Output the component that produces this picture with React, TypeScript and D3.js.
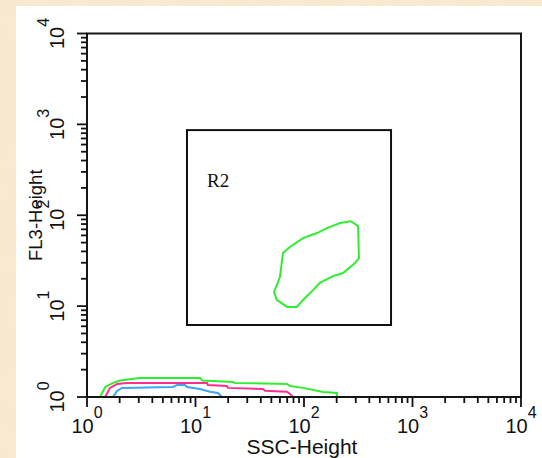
import React from 'react'
import * as d3 from 'd3'

// decades on both log axes
const decades = [1, 10, 100, 1000, 10000]
const exponents = ['0', '1', '2', '3', '4']

// R2 gate corners [ssc, fl3]
const gateR2 = [
  [8.35, 865],
  [634, 6.2],
]

// contour inside the gate [ssc, fl3]
const gateContour = [
  [271, 86], [315, 76], [321, 33.8], [295, 29.8], [229, 23.1], [185, 21.4],
  [140, 18], [121, 15], [98, 11.7], [86, 9.8], [70, 9.8], [56, 11.7],
  [53, 14.3], [60, 20.9], [64, 38.4], [74, 44.7], [98, 56.1], [132, 63.7],
  [163, 72.3], [215, 82], [271, 86],
]

// contours hugging the x axis
const greenLevel = [
  [1.32, 1], [1.47, 1.29], [1.74, 1.43], [2.01, 1.52], [3.08, 1.62], [11, 1.62],
  [11.5, 1.52], [22.2, 1.46], [23.1, 1.43], [69.7, 1.39], [74.3, 1.32], [98, 1.26],
  [150, 1.135], [201, 1.106], [201, 1],
]
const pinkLevel = [
  [1.47, 1], [1.63, 1.26], [1.89, 1.39], [2.34, 1.43], [12.8, 1.43], [13, 1.355],
  [19.5, 1.32], [19.9, 1.26], [41.9, 1.225], [43.7, 1.173], [69.7, 1.144], [74.3, 1.079],
  [79.2, 1],
]
const blueLevel = [
  [1.74, 1], [1.89, 1.164], [2.1, 1.26], [6.2, 1.29], [6.75, 1.355], [8, 1.355],
  [8.35, 1.29], [11, 1.225], [13.6, 1.144], [16.1, 1.106], [17.5, 1],
]

const contours = [
  { points: greenLevel, color: '#2fee2f' },
  { points: pinkLevel, color: '#ff2f8f' },
  { points: blueLevel, color: '#3aa6f5' },
  { points: gateContour, color: '#2fee2f' },
]

const font = '"Liberation Sans", Arial, sans-serif'

export default function App() {
  const x = d3.scaleLog().domain([1, 10000]).range([87, 521])
  const y = d3.scaleLog().domain([1, 10000]).range([397, 33.5])

  const minor = []
  decades.slice(0, 4).forEach(d => {
    for (let k = 2; k <= 9; k++) minor.push(d * k)
  })

  const line = d3
    .line()
    .x(d => x(d[0]))
    .y(d => y(d[1]))

  return (
    <svg
      width={542}
      height={458}
      style={{ position: 'absolute', left: 0, top: 0 }}
      fontFamily={font}
    >
      <defs>
        <filter id="paper" x="0" y="0" width="100%" height="100%">
          <feTurbulence type="fractalNoise" baseFrequency="0.035" numOctaves="4" seed="7" />
          <feColorMatrix
            type="matrix"
            values="0 0 0 0 0.88  0 0 0 0 0.76  0 0 0 0 0.56  0.9 0 0 0 -0.35"
          />
        </filter>
      </defs>
      <rect width={542} height={458} fill="#f8ead0" />
      <rect width={542} height={458} filter="url(#paper)" opacity={0.5} />
      <rect x={16} y={6} width={526} height={452} fill="#ffffff" />

      {contours.map((c, i) => (
        <path key={i} d={line(c.points)} fill="none" stroke={c.color} strokeWidth={2} />
      ))}

      <rect
        x={x(gateR2[0][0])}
        y={y(gateR2[0][1])}
        width={x(gateR2[1][0]) - x(gateR2[0][0])}
        height={y(gateR2[1][1]) - y(gateR2[0][1])}
        fill="none"
        stroke="#111"
        strokeWidth={2}
      />
      <text
        x={x(gateR2[0][0]) + 20}
        y={y(gateR2[0][1]) + 57}
        fontFamily='"Liberation Serif", "Times New Roman", serif'
        fontSize={19}
        fill="#111"
      >
        R2
      </text>

      <rect
        x={x(1)}
        y={y(10000)}
        width={x(10000) - x(1)}
        height={y(1) - y(10000)}
        fill="none"
        stroke="#151515"
        strokeWidth={2}
      />

      {/* x axis ticks */}
      {minor.map(v => (
        <line key={'xm' + v} x1={x(v)} x2={x(v)} y1={y(1)} y2={y(1) + 6} stroke="#111" strokeWidth={1.8} />
      ))}
      {decades.map(v => (
        <line key={'xM' + v} x1={x(v)} x2={x(v)} y1={y(1)} y2={y(1) + 10} stroke="#111" strokeWidth={1.8} />
      ))}
      {decades.map((v, i) => (
        <text key={'xl' + v} x={x(v)} y={433} textAnchor="middle" fontSize={20} fill="#111">
          10
          <tspan dy={-15} fontSize={16}>
            {exponents[i]}
          </tspan>
        </text>
      ))}

      {/* y axis ticks */}
      {minor.map(v => (
        <line key={'ym' + v} x1={x(1) - 6} x2={x(1)} y1={y(v)} y2={y(v)} stroke="#111" strokeWidth={1.8} />
      ))}
      {decades.map(v => (
        <line key={'yM' + v} x1={x(1) - 10} x2={x(1)} y1={y(v)} y2={y(v)} stroke="#111" strokeWidth={1.8} />
      ))}
      {decades.map((v, i) => (
        <text
          key={'yl' + v}
          transform={'translate(64,' + y(v) + ') rotate(-90)'}
          textAnchor="middle"
          fontSize={20}
          fill="#111"
        >
          10
          <tspan dy={-15} fontSize={16}>
            {exponents[i]}
          </tspan>
        </text>
      ))}

      <text x={302} y={454} textAnchor="middle" fontSize={21} fill="#111">
        SSC-Height
      </text>
      <text
        transform={'translate(42,' + y(100) + ') rotate(-90)'}
        textAnchor="middle"
        fontSize={18.5}
        fill="#111"
      >
        FL3-Height
      </text>
    </svg>
  )
}
